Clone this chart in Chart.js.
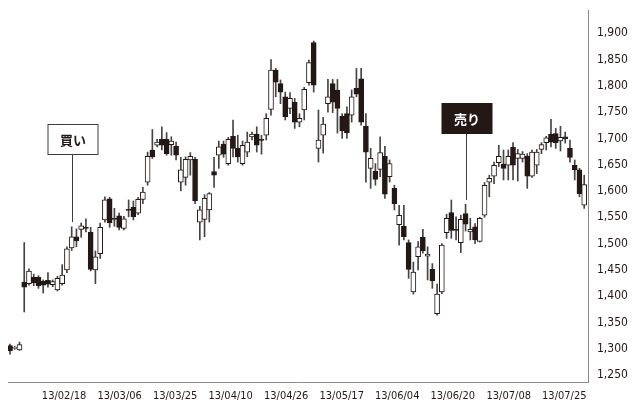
<!DOCTYPE html>
<html>
<head>
<meta charset="utf-8">
<script src="https://cdn.jsdelivr.net/npm/chart.js@4/dist/chart.umd.min.js"></script>
<style>
  html, body { margin: 0; padding: 0; background: #fff; overflow: hidden; }
</style>
</head>
<body>
<canvas id="chart" width="640" height="410"></canvas>
<script>
// daily candles (index = trading day)
const opens = [
  1306, 1301, 1298, 1427, 1424, 1436, 1436, 1429, 1430, 1422, 1412, 1424, 1450, 1492, 1513, 1527, 1531, 1522, 1450, 1481,
  1545, 1585, 1548, 1553, 1529, 1565, 1569, 1558, 1584, 1617, 1678, 1687, 1698, 1698, 1688, 1685, 1617, 1626, 1659, 1660,
  1541, 1546, 1564, 1637, 1668, 1689, 1652, 1704, 1681, 1652, 1674, 1703, 1708, 1698, 1706, 1755, 1830, 1804, 1779, 1757,
  1769, 1731, 1754, 1806, 1882, 1681, 1706, 1766, 1804, 1792, 1742, 1747, 1744, 1795, 1813, 1723, 1643, 1638, 1641, 1666,
  1627, 1605, 1536, 1533, 1502, 1408, 1475, 1512, 1476, 1451, 1367, 1408, 1521, 1559, 1527, 1502, 1557, 1522, 1532, 1504,
  1554, 1617, 1628, 1654, 1651, 1649, 1683, 1662, 1662, 1666, 1628, 1649, 1679, 1692, 1708, 1709, 1695, 1703, 1681, 1649,
  1640, 1573
];
const highs = [
  1309, 1305, 1313, 1502, 1452, 1442, 1439, 1431, 1445, 1431, 1438, 1460, 1494, 1532, 1528, 1539, 1547, 1531, 1486, 1539,
  1589, 1588, 1567, 1558, 1552, 1583, 1581, 1588, 1607, 1674, 1717, 1698, 1722, 1711, 1703, 1693, 1664, 1665, 1673, 1664,
  1571, 1593, 1597, 1664, 1695, 1695, 1702, 1735, 1706, 1695, 1712, 1712, 1722, 1706, 1747, 1850, 1833, 1811, 1788, 1787,
  1776, 1747, 1797, 1849, 1885, 1754, 1740, 1812, 1812, 1812, 1747, 1760, 1792, 1833, 1833, 1747, 1681, 1652, 1703, 1685,
  1659, 1611, 1573, 1573, 1507, 1465, 1504, 1527, 1494, 1462, 1423, 1500, 1556, 1583, 1551, 1554, 1575, 1548, 1538, 1550,
  1616, 1630, 1655, 1687, 1678, 1678, 1692, 1679, 1675, 1671, 1678, 1679, 1692, 1704, 1736, 1719, 1723, 1712, 1697, 1659,
  1643, 1630
];
const lows = [
  1290, 1299, 1297, 1370, 1421, 1420, 1415, 1406, 1417, 1418, 1410, 1421, 1445, 1487, 1494, 1512, 1522, 1448, 1424, 1472,
  1541, 1531, 1533, 1526, 1526, 1551, 1545, 1555, 1576, 1611, 1662, 1684, 1678, 1668, 1668, 1659, 1600, 1611, 1630, 1576,
  1507, 1513, 1541, 1607, 1643, 1664, 1649, 1665, 1655, 1649, 1665, 1697, 1674, 1670, 1697, 1744, 1779, 1766, 1735, 1747,
  1719, 1722, 1735, 1801, 1788, 1655, 1672, 1750, 1749, 1710, 1700, 1700, 1731, 1779, 1725, 1617, 1605, 1611, 1627, 1586,
  1617, 1564, 1497, 1507, 1434, 1404, 1450, 1482, 1431, 1415, 1364, 1405, 1510, 1510, 1507, 1483, 1524, 1507, 1500, 1503,
  1550, 1589, 1614, 1646, 1621, 1621, 1621, 1619, 1655, 1605, 1626, 1633, 1671, 1678, 1684, 1681, 1676, 1691, 1655, 1621,
  1589, 1567
];
const closes = [
  1296, 1303, 1308, 1417, 1448, 1426, 1420, 1421, 1423, 1428, 1434, 1440, 1490, 1513, 1505, 1534, 1529, 1451, 1475, 1531,
  1583, 1540, 1546, 1531, 1547, 1563, 1551, 1584, 1598, 1666, 1665, 1693, 1687, 1671, 1695, 1668, 1640, 1660, 1666, 1581,
  1564, 1586, 1595, 1630, 1684, 1670, 1698, 1681, 1665, 1687, 1693, 1708, 1687, 1696, 1738, 1830, 1807, 1788, 1741, 1776,
  1731, 1738, 1793, 1844, 1801, 1697, 1727, 1779, 1769, 1757, 1714, 1711, 1779, 1784, 1731, 1674, 1662, 1622, 1673, 1594,
  1652, 1576, 1554, 1513, 1451, 1446, 1494, 1486, 1480, 1429, 1404, 1497, 1548, 1525, 1525, 1546, 1537, 1527, 1507, 1548,
  1611, 1624, 1649, 1666, 1643, 1666, 1649, 1671, 1670, 1628, 1674, 1674, 1688, 1701, 1693, 1692, 1702, 1699, 1664, 1640,
  1595, 1612
];

const dateLabels = ['13/02/18', '13/03/06', '13/03/25', '13/04/10', '13/04/26', '13/05/17', '13/06/04', '13/06/20', '13/07/08', '13/07/25'];
const datePos = [11.4, 23.1, 34.8, 46.5, 58.2, 69.9, 81.6, 93.3, 105.1, 116.8];
const priceTicks = [1250, 1300, 1350, 1400, 1450, 1500, 1550, 1600, 1650, 1700, 1750, 1800, 1850, 1900];

// signal callouts: candle index, price the line points to, price at box centre
const callouts = [
  { text: '買い', at: 13, tip: 1541, box: 1698, dark: false },
  { text: '売り', at: 96, tip: 1583, box: 1738, dark: true }
];

const INK = '#231815';
const AXIS = '#8a8a8a';

const bodies = opens.map((o, i) => ({ x: i, y: [o, closes[i]] }));
const wicks = lows.map((l, i) => ({ x: i, y: [l, highs[i]] }));
const isUp = i => closes[i] >= opens[i];

const calloutPlugin = {
  id: 'callouts',
  afterDatasetsDraw(chart) {
    const { ctx, scales: { x, y } } = chart;
    const w = 50, h = 30;
    ctx.save();
    callouts.forEach(c => {
      const px = Math.round(x.getPixelForValue(c.at)) + 0.5;
      const tipY = y.getPixelForValue(c.tip);
      const top = Math.round(y.getPixelForValue(c.box) - h / 2) + 0.5;
      const left = Math.round(px - w / 2);
      ctx.strokeStyle = '#3c3c3c';
      ctx.lineWidth = 1;
      ctx.beginPath();
      ctx.moveTo(px, top + h);
      ctx.lineTo(px, tipY);
      ctx.stroke();
      ctx.fillStyle = c.dark ? INK : '#fff';
      ctx.fillRect(left, top, w, h);
      ctx.strokeStyle = c.dark ? INK : '#3c3c3c';
      ctx.strokeRect(left, top, w, h);
      ctx.fillStyle = c.dark ? '#fff' : INK;
      ctx.font = 'bold 13px "Noto Sans CJK JP"';
      ctx.textAlign = 'center';
      ctx.textBaseline = 'middle';
      ctx.fillText(c.text, left + w / 2, top + h / 2 + 1);
    });
    ctx.restore();
  }
};

const dateFont = { family: '"DejaVu Sans Condensed", "DejaVu Sans", sans-serif', size: 11 };
const priceFont = { family: '"DejaVu Sans Condensed", "DejaVu Sans", sans-serif', size: 12 };

new Chart(document.getElementById('chart'), {
  type: 'bar',
  data: {
    datasets: [
      {
        label: 'body',
        data: bodies,
        order: 0,
        grouped: false,
        barThickness: 5,
        minBarLength: 1,
        borderSkipped: false,
        borderWidth: 1,
        borderColor: INK,
        backgroundColor: bodies.map((b, i) => isUp(i) ? '#fff' : INK)
      },
      {
        label: 'wick',
        data: wicks,
        order: 1,
        grouped: false,
        barThickness: 1,
        borderWidth: 0,
        backgroundColor: '#444'
      }
    ]
  },
  options: {
    responsive: false,
    animation: false,
    layout: { padding: { left: 8, top: 10, right: 0, bottom: 0 } },
    plugins: { legend: { display: false }, tooltip: { enabled: false } },
    scales: {
      x: {
        type: 'linear',
        offset: false,
        min: -0.42,
        max: 121.8,
        afterBuildTicks: s => { s.ticks = datePos.map(v => ({ value: v })); },
        afterFit: s => { s.height = 28; s.paddingLeft = 0; s.paddingRight = 0; },
        grid: { display: false, drawTicks: false },
        border: { display: true, color: AXIS, width: 1 },
        ticks: {
          autoSkip: false,
          maxRotation: 0,
          padding: 8,
          color: INK,
          font: dateFont,
          callback: (v, i) => dateLabels[i]
        }
      },
      y: {
        position: 'right',
        min: 1237,
        max: 1944,
        afterBuildTicks: s => { s.ticks = priceTicks.map(v => ({ value: v })); },
        afterFit: s => { s.width = 52; s.paddingTop = 0; s.paddingBottom = 0; },
        grid: { display: false, drawTicks: false },
        border: { display: true, color: AXIS, width: 1 },
        ticks: {
          padding: 9,
          color: INK,
          font: priceFont,
          callback: v => v.toLocaleString('en-US')
        }
      }
    }
  },
  plugins: [calloutPlugin]
});
</script>
</body>
</html>
